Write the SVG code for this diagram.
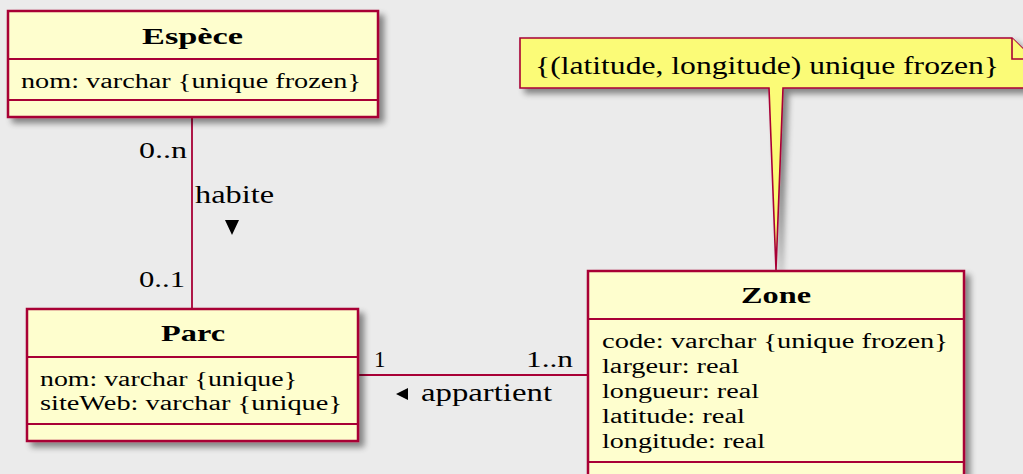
<svg xmlns="http://www.w3.org/2000/svg" width="1023" height="474" viewBox="0 0 1023 474">
<defs>
<filter id="sh" x="-10%" y="-10%" width="130%" height="140%">
<feGaussianBlur in="SourceAlpha" stdDeviation="3"/>
<feOffset dx="5" dy="5" result="b"/>
<feComponentTransfer><feFuncA type="linear" slope="0.45"/></feComponentTransfer>
<feMerge><feMergeNode/><feMergeNode in="SourceGraphic"/></feMerge>
</filter>
<style>
.box{fill:#FEFECE;stroke:#A80036;stroke-width:2.5}
.div{stroke:#A80036;stroke-width:2.2;fill:none}
.note{fill:#FBFB77;stroke:#A80036;stroke-width:1.6}
.con{stroke:#A80036;stroke-width:1.8;fill:none}
text{fill:#000;font-family:"Liberation Serif","Times New Roman",serif}
.title{font-size:24px;font-weight:bold}
.attr{font-size:20.5px}
.mul{font-size:23px}
.lbl{font-size:25px}
.ntxt{font-size:25px}
</style>
</defs>
<rect width="1023" height="474" fill="#EBEBEB"/>

<g id="note">
<path class="note" filter="url(#sh)" d="M520,38 L1012,38 L1033,59 L1033,88 L783,88 L776,270 L769,88 L520,88 Z"/>
<path class="note" d="M1012,38 L1012,59 L1033,59"/>
<text class="ntxt" x="535" y="74" textLength="464" lengthAdjust="spacingAndGlyphs">{(latitude, longitude) unique frozen}</text>
</g>

<g id="connectors">
<line class="con" x1="192" y1="117" x2="192" y2="309"/>
<line class="con" x1="358" y1="375" x2="588" y2="375"/>
<text class="mul" x="139" y="158" textLength="48" lengthAdjust="spacingAndGlyphs">0..n</text>
<text class="lbl" x="195" y="203" textLength="79" lengthAdjust="spacingAndGlyphs">habite</text>
<polygon points="225,220 239,220 232,235" fill="#000"/>
<text class="mul" x="139" y="287" textLength="46" lengthAdjust="spacingAndGlyphs">0..1</text>
<text class="mul" x="374" y="367">1</text>
<text class="mul" x="526" y="367" textLength="47" lengthAdjust="spacingAndGlyphs">1..n</text>
<polygon points="396,394 408,388 408,400" fill="#000"/>
<text class="lbl" x="421" y="401" textLength="131" lengthAdjust="spacingAndGlyphs">appartient</text>
</g>

<g id="espece">
<rect class="box" filter="url(#sh)" x="8" y="11" width="370" height="106"/>
<line class="div" x1="8" y1="59" x2="378" y2="59"/>
<line class="div" x1="8" y1="100" x2="378" y2="100"/>
<text class="title" x="142" y="44" textLength="101" lengthAdjust="spacingAndGlyphs">Espèce</text>
<text class="attr" x="21" y="88" textLength="340" lengthAdjust="spacingAndGlyphs">nom: varchar {unique frozen}</text>
</g>

<g id="parc">
<rect class="box" filter="url(#sh)" x="27" y="309" width="331" height="132"/>
<line class="div" x1="27" y1="357" x2="358" y2="357"/>
<line class="div" x1="27" y1="424" x2="358" y2="424"/>
<text class="title" x="161" y="341" textLength="64" lengthAdjust="spacingAndGlyphs">Parc</text>
<text class="attr" x="40" y="386" textLength="257" lengthAdjust="spacingAndGlyphs">nom: varchar {unique}</text>
<text class="attr" x="40" y="410" textLength="302" lengthAdjust="spacingAndGlyphs">siteWeb: varchar {unique}</text>
</g>

<g id="zone">
<rect class="box" filter="url(#sh)" x="588" y="271" width="376" height="230"/>
<line class="div" x1="588" y1="319" x2="964" y2="319"/>
<line class="div" x1="588" y1="462" x2="964" y2="462"/>
<text class="title" x="741" y="303" textLength="70" lengthAdjust="spacingAndGlyphs">Zone</text>
<text class="attr" x="602" y="348" textLength="346" lengthAdjust="spacingAndGlyphs">code: varchar {unique frozen}</text>
<text class="attr" x="602" y="373" textLength="137" lengthAdjust="spacingAndGlyphs">largeur: real</text>
<text class="attr" x="602" y="398" textLength="157" lengthAdjust="spacingAndGlyphs">longueur: real</text>
<text class="attr" x="602" y="423" textLength="143" lengthAdjust="spacingAndGlyphs">latitude: real</text>
<text class="attr" x="602" y="448" textLength="163" lengthAdjust="spacingAndGlyphs">longitude: real</text>
</g>
</svg>
